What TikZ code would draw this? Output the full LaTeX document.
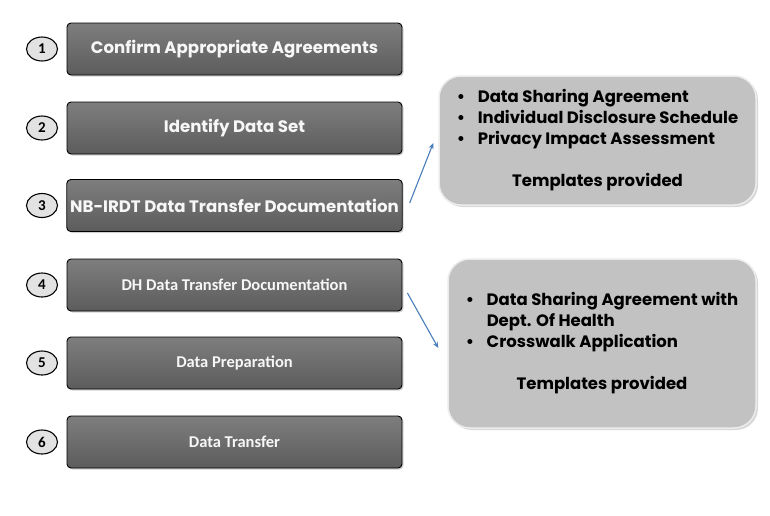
\documentclass[tikz,border=0pt]{standalone}
\usepackage{fontspec}
\newfontfamily\gothic{Poppins}
\newfontfamily\calib{Carlito}[BoldFont={Carlito Bold}]
\usetikzlibrary{shadows,arrows.meta,shapes.geometric}
\definecolor{arrblue}{HTML}{4A7EBB}
\definecolor{boxtop}{HTML}{7E7E7E}
\definecolor{boxbot}{HTML}{5C5C5C}
\definecolor{infofill}{HTML}{C2C2C2}
\definecolor{numfill}{HTML}{E2E2E2}
\newcommand{\bul}{\makebox[21pt][l]{\textbullet}}
\tikzset{
  stepbox/.style={rectangle, rounded corners=4pt, draw=black, line width=0.9pt,
    top color=boxtop, bottom color=boxbot, minimum width=335pt, minimum height=52pt,
    text=white!94!gray, drop shadow={shadow xshift=1.5pt, shadow yshift=-1.5pt, opacity=0.35}},
  bigtext/.style={font=\gothic\bfseries\fontsize{16.6}{19}\selectfont},
  smalltext/.style={font=\calib\bfseries\fontsize{16.5}{19}\selectfont},
  numcirc/.style={ellipse, draw=black, line width=1.1pt, fill=numfill, minimum width=31pt,
    minimum height=24pt, inner sep=0pt, font=\calib\bfseries\fontsize{15}{17}\selectfont},
  infobox/.style={rectangle, rounded corners=22pt, draw=white!85!gray, line width=1.5pt,
    fill=infofill, inner sep=0pt, font=\gothic\bfseries\fontsize{16.5}{21}\selectfont,
    drop shadow={shadow xshift=2pt, shadow yshift=-2pt, opacity=0.3}},
  conn/.style={draw=arrblue, line width=1.1pt, -{Stealth[length=6pt,width=5pt]}}
}
\begin{document}
\begin{tikzpicture}[x=1pt,y=-1pt]
\useasboundingbox[fill=white] (0,0) rectangle (770,515);
\node[stepbox,bigtext] (b1) at (234.5,49) {Confirm Appropriate Agreements};
\node[stepbox,bigtext] (b2) at (234.5,128) {Identify Data Set};
\node[stepbox,bigtext] (b3) at (234.5,205.5) {NB-IRDT Data Transfer Documentation};
\node[stepbox,smalltext] (b4) at (234.5,285) {DH Data Transfer Documentation};
\node[stepbox,smalltext] (b5) at (234.5,363) {Data Preparation};
\node[stepbox,smalltext] (b6) at (234.5,442) {Data Transfer};
\node[numcirc] (n1) at (42,49) {1};
\node[numcirc] (n2) at (42,128) {2};
\node[numcirc] (n3) at (42,205.5) {3};
\node[numcirc] (n4) at (42,285) {4};
\node[numcirc] (n5) at (42,363) {5};
\node[numcirc] (n6) at (42,442) {6};
\node[infobox, minimum width=317pt, minimum height=129pt] (pA) at (597.5,140.5)
  {\begin{tabular}{@{}l@{}}\bul Data Sharing Agreement\\ \bul Individual Disclosure Schedule\\ \bul Privacy Impact Assessment\\[21pt] \multicolumn{1}{@{}c@{}}{Templates provided}\end{tabular}};
\node[infobox, minimum width=308pt, minimum height=169pt] (pB) at (602,343.5)
  {\begin{tabular}{@{}l@{}}\bul Data Sharing Agreement with\\ \hspace*{21pt}Dept. Of Health\\ \bul Crosswalk Application\\[21pt] \multicolumn{1}{@{}c@{}}{Templates provided}\end{tabular}};
\draw[conn] ([xshift=7pt,yshift=2.5pt]b3.east) -- ([xshift=-5pt,yshift=-2.5pt]pA.west);
\draw[conn] ([xshift=5pt,yshift=-8pt]b4.east) -- ([xshift=-9pt,yshift=-4.5pt]pB.west);
\end{tikzpicture}
\end{document}
